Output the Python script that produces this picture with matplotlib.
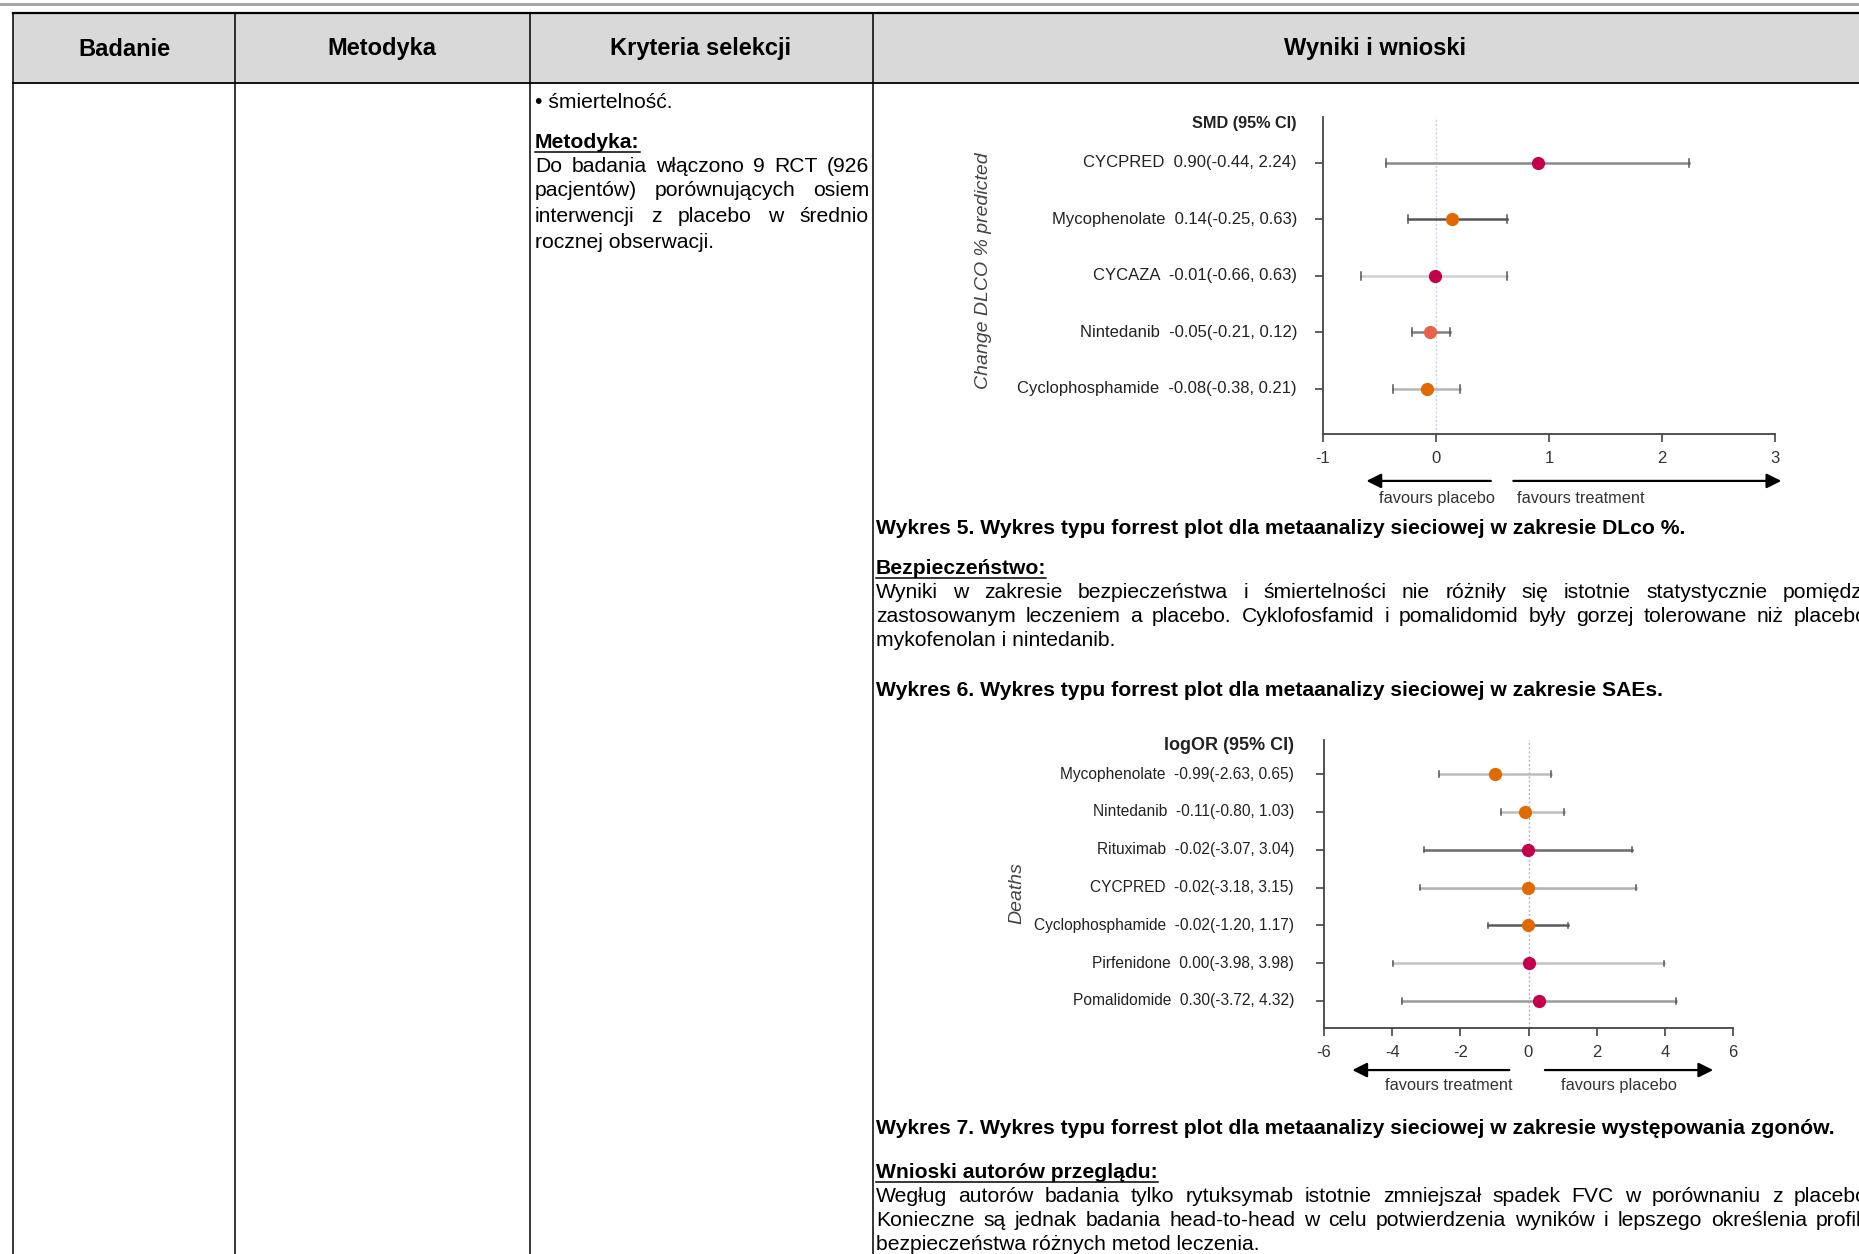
import numpy as np
import matplotlib.pyplot as plt

plt.rcParams['font.family'] = ['Liberation Sans', 'DejaVu Sans']

# --- data: forest plot 1 (DLCO)
dlco_names = ['CYCPRED', 'Mycophenolate', 'CYCAZA', 'Nintedanib', 'Cyclophosphamide']
dlco_est = [0.90, 0.14, -0.01, -0.05, -0.08]
dlco_lo = [-0.44, -0.25, -0.66, -0.21, -0.38]
dlco_hi = [2.24, 0.63, 0.63, 0.12, 0.21]
dlco_dot = ['#c3004c', '#e06a00', '#c3004c', '#e8604a', '#e06a00']
dlco_line = ['#8a8a8a', '#555555', '#d0d0d0', '#808080', '#b5b5b5']
dlco_ticks = [-1, 0, 1, 2, 3]

# --- data: forest plot 2 (deaths)
death_names = ['Mycophenolate', 'Nintedanib', 'Rituximab', 'CYCPRED',
               'Cyclophosphamide', 'Pirfenidone', 'Pomalidomide']
death_est = [-0.99, -0.11, -0.02, -0.02, -0.02, 0.00, 0.30]
death_lo = [-2.63, -0.80, -3.07, -3.18, -1.20, -3.98, -3.72]
death_hi = [0.65, 1.03, 3.04, 3.15, 1.17, 3.98, 4.32]
death_dot = ['#e06a00', '#e06a00', '#c3004c', '#e06a00', '#e06a00', '#c3004c', '#c3004c']
death_line = ['#bdbdbd', '#bdbdbd', '#6a6a6a', '#b0b0b0', '#5a5a5a', '#c4c4c4', '#9a9a9a']
death_ticks = [-6, -4, -2, 0, 2, 4, 6]

W, H = 1859, 1254
fig = plt.figure(figsize=(W / 100, H / 100), dpi=100)
page = fig.add_axes([0, 0, 1, 1])
page.set_xlim(0, W)
page.set_ylim(H, 0)
page.axis('off')
renderer = fig.canvas.get_renderer()

FS = 15.2


def text_width(s, **kw):
    t = page.text(0, 0, s, **kw)
    w = t.get_window_extent(renderer).width
    t.remove()
    return w


def justify(x0, x1, y, line, **kw):
    words = line.split()
    widths = [text_width(w, fontsize=FS, **kw) for w in words]
    gap = (x1 - x0 - sum(widths)) / (len(words) - 1)
    x = x0
    for w, wd in zip(words, widths):
        page.text(x, y, w, fontsize=FS, va='center', **kw)
        x += wd + gap


def heading(x, y, s):
    page.text(x, y, s, fontsize=FS, fontweight='bold', va='center')
    wd = text_width(s, fontsize=FS, fontweight='bold')
    page.plot([x, x + wd], [y + 10, y + 10], color='black', lw=1.1)


# page frame
page.plot([0, W], [4, 4], color='#a8a8a8', lw=2.2)
page.fill_between([13, 1877], 13, 83, color='#d9d9d9', lw=0)
page.plot([13, 1877], [13, 13], color='black', lw=1.6)
page.plot([13, 1877], [83, 83], color='black', lw=1.3)
for xc in [13, 235, 530, 873]:
    page.plot([xc, xc], [13, H], color='black', lw=1.1)

hdr = ['Badanie', 'Metodyka', 'Kryteria selekcji', 'Wyniki i wnioski']
for s, xc in zip(hdr, [124, 382, 701, 1375]):
    page.text(xc, 49, s, fontsize=17, fontweight='bold', ha='center', va='center')

# column 3
page.text(535, 102, '• śmiertelność.', fontsize=FS, va='center')
heading(535, 142, 'Metodyka:')
justify(535, 869, 166, 'Do badania włączono 9 RCT (926')
justify(535, 869, 191, 'pacjentów) porównujących osiem')
justify(535, 869, 216, 'interwencji z placebo w średnio')
page.text(535, 242, 'rocznej obserwacji.', fontsize=FS, va='center')

# column 4 text
X0, X1 = 876, 1873
page.text(X0, 529, 'Wykres 5. Wykres typu forrest plot dla metaanalizy sieciowej w zakresie DLco %.',
          fontsize=FS, fontweight='bold', va='center')
heading(X0, 568, 'Bezpieczeństwo:')
justify(X0, X1, 592, 'Wyniki w zakresie bezpieczeństwa i śmiertelności nie różniły się istotnie statystycznie pomiędzy')
justify(X0, X1, 617, 'zastosowanym leczeniem a placebo. Cyklofosfamid i pomalidomid były gorzej tolerowane niż placebo,')
page.text(X0, 641, 'mykofenolan i nintedanib.', fontsize=FS, va='center')
page.text(X0, 691, 'Wykres 6. Wykres typu forrest plot dla metaanalizy sieciowej w zakresie SAEs.',
          fontsize=FS, fontweight='bold', va='center')
page.text(X0, 1129, 'Wykres 7. Wykres typu forrest plot dla metaanalizy sieciowej w zakresie występowania zgonów.',
          fontsize=FS, fontweight='bold', va='center')
heading(X0, 1172, 'Wnioski autorów przeglądu:')
justify(X0, X1, 1196, 'Wegług autorów badania tylko rytuksymab istotnie zmniejszał spadek FVC w porównaniu z placebo.')
justify(X0, X1, 1220, 'Konieczne są jednak badania head-to-head w celu potwierdzenia wyników i lepszego określenia profilu')
page.text(X0, 1245, 'bezpieczeństwa różnych metod leczenia.', fontsize=FS, va='center')


def forest(rect, names, est, lo, hi, dots, lines, ticks, ylim, header, ylab,
           fs, hfs, arrows, labels, ylab_xy, zero_col, off_px):
    ax = fig.add_axes(rect)
    n = len(names)
    ys = np.arange(n, 0, -1)
    ax.axvline(0, color=zero_col, ls=(0, (1.5, 1.5)), lw=1.0, zorder=0)
    for y, e, l, h, dc, lc in zip(ys, est, lo, hi, dots, lines):
        ax.plot([l, h], [y, y], color=lc, lw=1.8, zorder=1)
        ax.plot([l, l], [y - 0.07, y + 0.07], color='#555555', lw=1.1)
        ax.plot([h, h], [y - 0.07, y + 0.07], color='#555555', lw=1.1)
        ax.plot(e, y, 'o', color=dc, ms=8.5, zorder=3)
    ax.set_xlim(ticks[0], ticks[-1])
    ax.set_ylim(*ylim)
    ax.set_xticks(ticks)
    ax.set_xticklabels([str(t) for t in ticks], fontsize=12, color='#333333')
    ax.set_yticks(ys)
    ax.set_yticklabels([])
    ax.tick_params(axis='y', length=6, width=1.2, color='#444444')
    ax.tick_params(axis='x', length=6, width=1.2, color='#444444', pad=6)
    for s in ['top', 'right']:
        ax.spines[s].set_visible(False)
    for s in ['left', 'bottom']:
        ax.spines[s].set_color('#444444')
        ax.spines[s].set_linewidth(1.3)
    tr = ax.get_yaxis_transform()
    off = -off_px / (rect[2] * W)
    for y, nm, e, l, h in zip(ys, names, est, lo, hi):
        ax.text(off, y, f'{nm}  {e:.2f}({l:.2f}, {h:.2f})', transform=tr,
                ha='right', va='center', fontsize=fs, color='#222222')
    ax.text(off, ylim[1] - 0.02 * (ylim[1] - ylim[0]), header, transform=tr,
            ha='right', va='center', fontsize=hfs, fontweight='bold', color='#222222')
    fig.text(ylab_xy[0] / W, 1 - ylab_xy[1] / H, ylab, rotation=90, style='italic',
             ha='center', va='center', fontsize=14, color='#444444')
    xt = ax.get_xaxis_transform()
    (a0, a1), (b0, b1) = arrows
    ay, ly = labels[2], labels[3]
    for x0, x1 in [(a0, a1), (b0, b1)]:
        ax.annotate('', xy=(x1, ay), xytext=(x0, ay), xycoords=xt, textcoords=xt,
                    arrowprops=dict(arrowstyle='-|>', color='black', lw=1.6, mutation_scale=22),
                    annotation_clip=False)
    for (x, s) in labels[:2]:
        ax.text(x, ly, s, transform=xt, ha='center', va='center', fontsize=11.8,
                color='#333333', clip_on=False)
    return ax


# plot 1: x -1..3 -> px 1323..1775, y 117..434
r1 = [1323 / W, 1 - 434 / H, (1775 - 1323) / W, (434 - 117) / H]
forest(r1, dlco_names, dlco_est, dlco_lo, dlco_hi, dlco_dot, dlco_line, dlco_ticks,
       (0.204, 5.81), 'SMD (95% CI)', 'Change DLCO % predicted', 12, 11.7,
       ((0.51, -0.64), (0.66, 3.08)),
       [(0.01, 'favours placebo'), (1.28, 'favours treatment'), -0.148, -0.202],
       (984, 271), '#c5d5e5', 26)

# plot 2: x -6..6 -> px 1324..1733, y 740..1028
r2 = [1324 / W, 1 - 1028 / H, (1733 - 1324) / W, (1028 - 740) / H]
forest(r2, death_names, death_est, death_lo, death_hi, death_dot, death_line, death_ticks,
       (0.286, 7.9), 'logOR (95% CI)', 'Deaths', 11.2, 13,
       ((-0.48, -5.25), (0.4, 5.5)),
       [(-2.33, 'favours treatment'), (2.66, 'favours placebo'), -0.146, -0.2],
       (1017, 893), '#c0b0b8', 30)

fig.savefig('out.png', dpi=100)
